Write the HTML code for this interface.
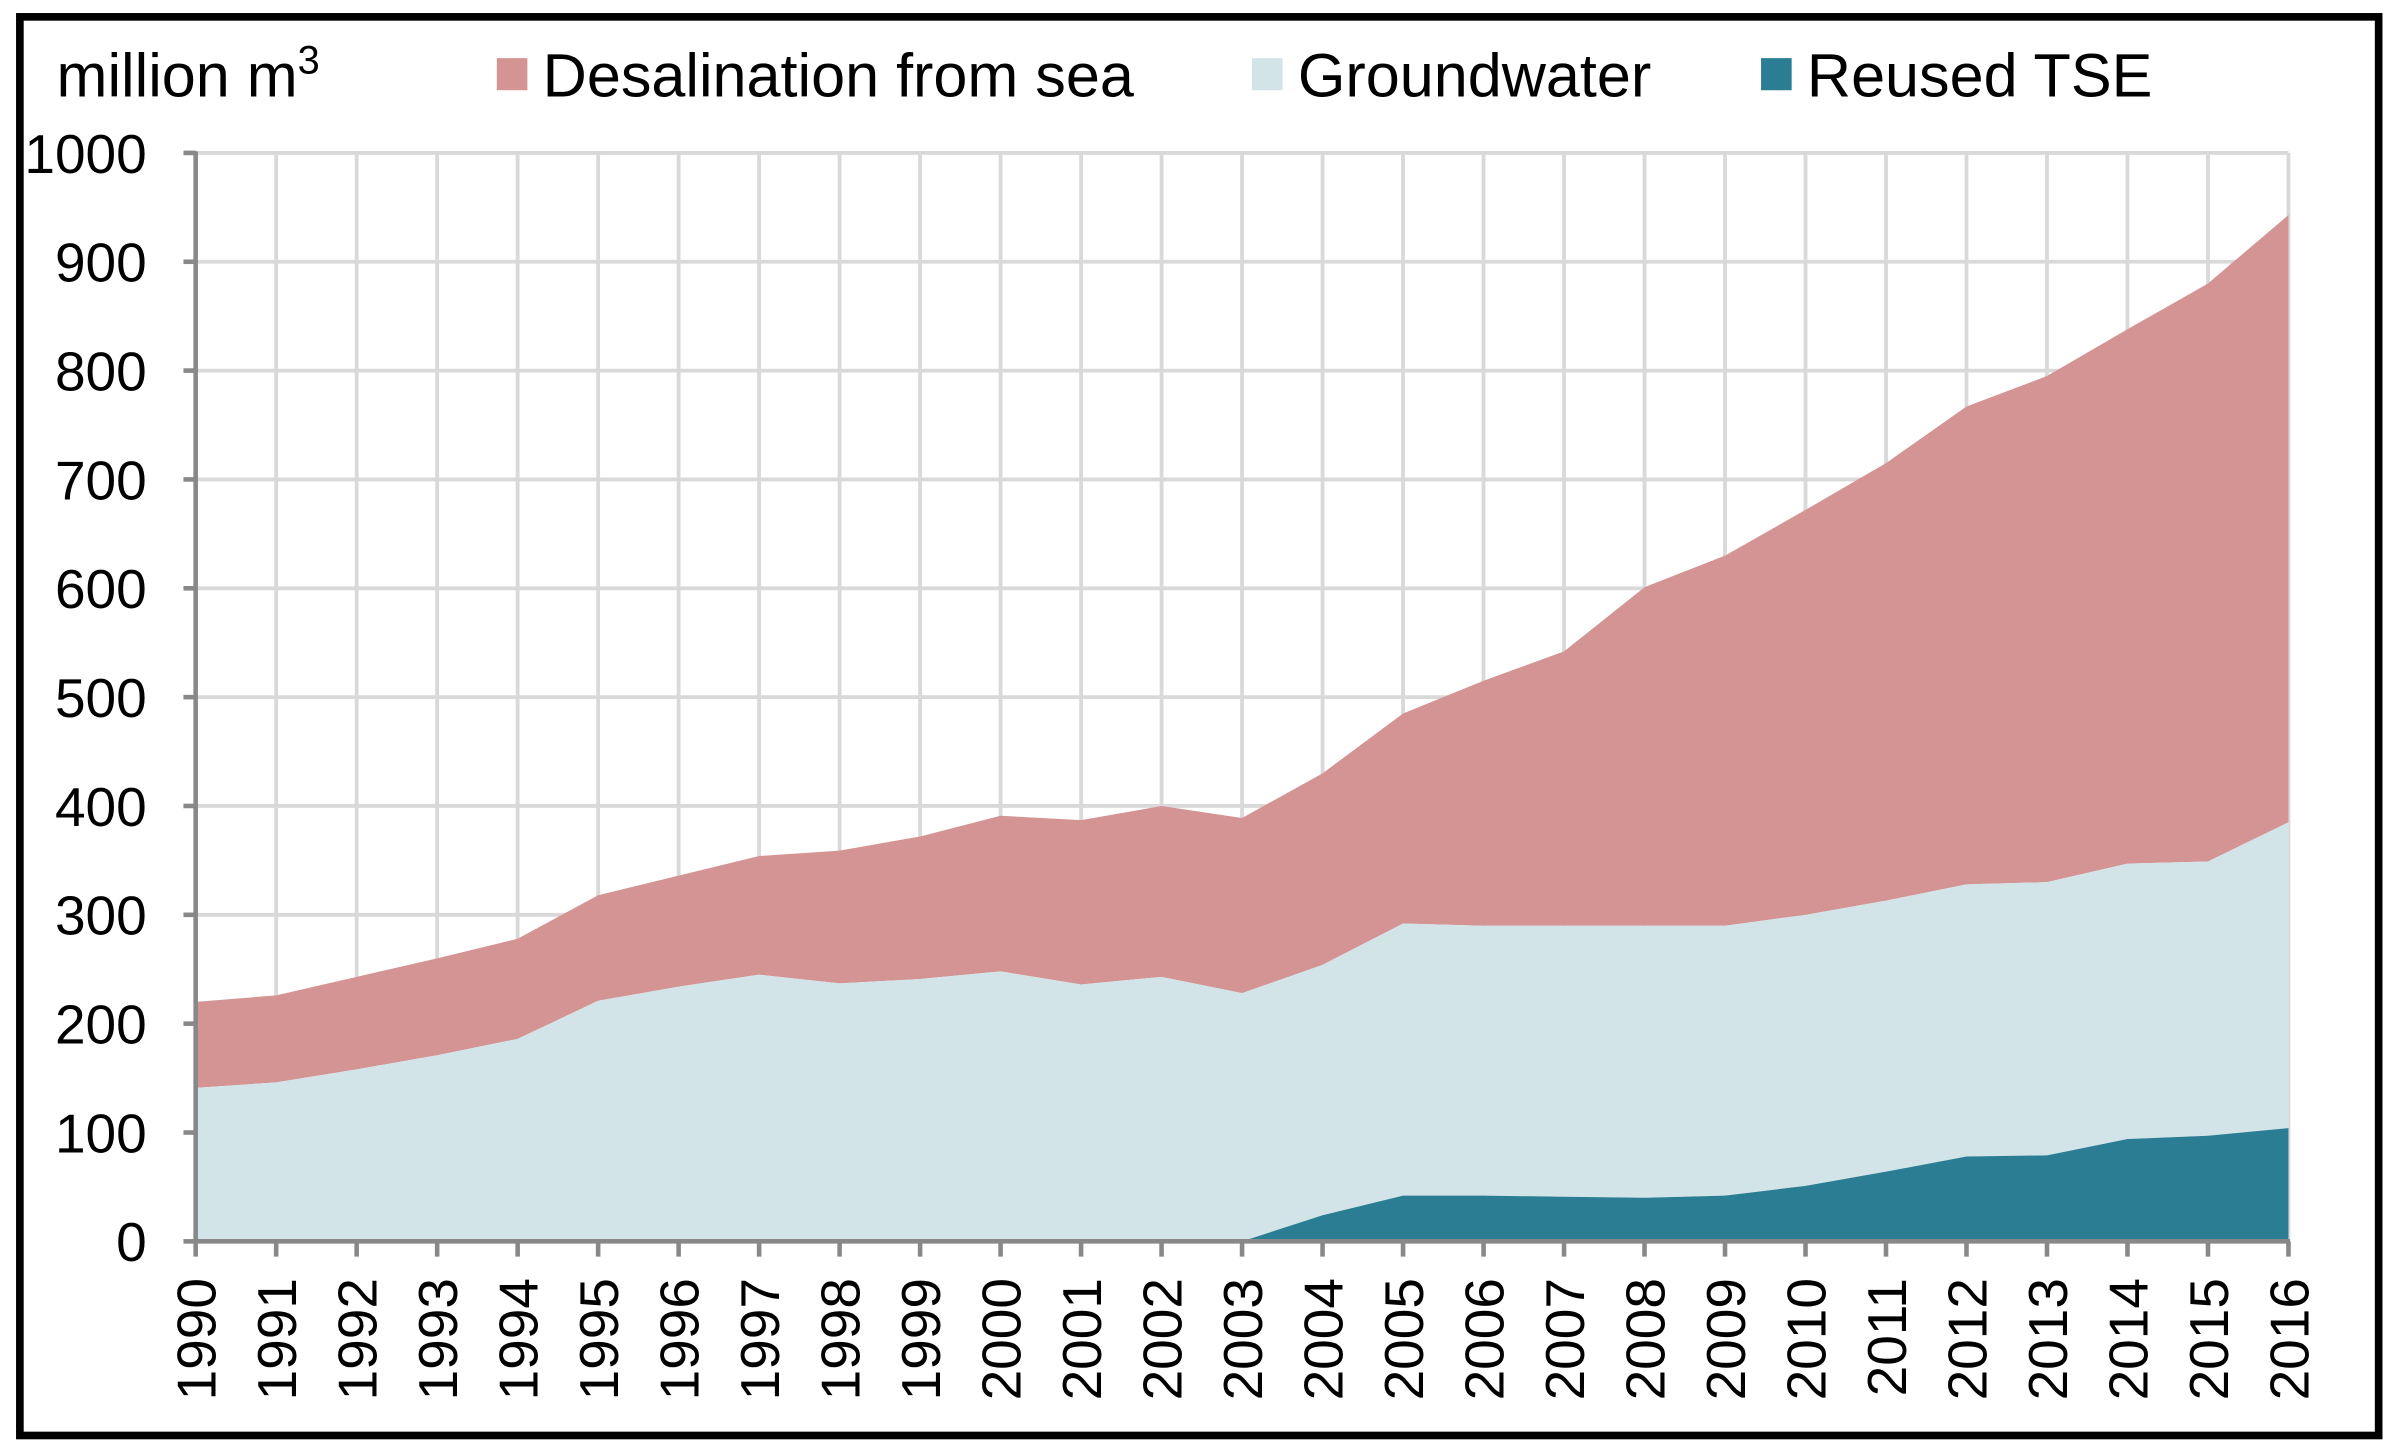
<!DOCTYPE html>
<html><head><meta charset="utf-8"><style>
html,body{margin:0;padding:0;background:#fff;}
svg{display:block;font-family:"Liberation Sans",Arial,sans-serif;}
</style></head><body>
<svg id="chart" width="2397" height="1447" viewBox="0 0 1568 946.5" xmlns="http://www.w3.org/2000/svg">
<rect x="13" y="11" width="1543" height="928" fill="#fff" stroke="#000" stroke-width="5"/>
<text x="37" y="63" font-size="40" fill="#000">million m<tspan font-size="26" dy="-15">3</tspan></text>
<g>
<rect x="325" y="38" width="20" height="21" fill="#d49494"/>
<text x="355" y="63" font-size="40">Desalination from sea</text>
<rect x="819" y="38" width="20" height="21" fill="#d3e4e8"/>
<text x="849" y="63" font-size="40">Groundwater</text>
<rect x="1152" y="38" width="20" height="21" fill="#2b7d93"/>
<text x="1182" y="63" font-size="40">Reused TSE</text>
</g>
<g id="grid"></g><g id="areas"></g><g id="axes"></g>
</svg>
<script>
const years = [1990,1991,1992,1993,1994,1995,1996,1997,1998,1999,2000,2001,2002,2003,2004,2005,2006,2007,2008,2009,2010,2011,2012,2013,2014,2015,2016];
const tse = [0,0,0,0,0,0,0,0,0,0,0,0,0,0,24,42,42,41,40,42,51,64,78,79,94,97,104];
const groundwater = [141,146,158,171,186,221,234,245,237,241,248,236,243,228,230,250,248,249,250,248,249,249,250,251,253,252,281];
const desalination = [79,80,85,89,92,97,102,109,122,131,143,151,157,161,176,193,225,252,311,340,372,402,439,465,491,531,558];
const yTicks = [0,100,200,300,400,500,600,700,800,900,1000];

const NS="http://www.w3.org/2000/svg";
const X0=128,X1=1497,Y0=812,Y1=100;
const xs=i=>X0+(X1-X0)*i/(years.length-1);
const ys=v=>Y0-(Y0-Y1)*v/1000;
function mk(tag,attrs,parent){const e=document.createElementNS(NS,tag);for(const k in attrs)e.setAttribute(k,attrs[k]);parent.appendChild(e);return e;}
const grid=document.getElementById('grid'),areas=document.getElementById('areas'),axes=document.getElementById('axes');
yTicks.forEach(v=>{const l=mk('line',{x1:X0,x2:X1,y1:ys(v),y2:ys(v),stroke:'#d9d9d9','stroke-width':2.5},grid);

});
years.forEach((y,i)=>{const l=mk('line',{x1:xs(i),x2:xs(i),y1:Y1,y2:Y0,stroke:'#d9d9d9','stroke-width':2.5},grid);

});
const cum1=tse.slice(),cum2=tse.map((v,i)=>v+groundwater[i]),cum3=cum2.map((v,i)=>v+desalination[i]);
function area(lo,hi,color,name){let d='M'+xs(0)+','+ys(hi[0]);for(let i=1;i<hi.length;i++)d+='L'+xs(i)+','+ys(hi[i]);for(let i=lo.length-1;i>=0;i--)d+='L'+xs(i)+','+ys(lo[i]);d+='Z';
const p=mk('path',{d:d,fill:color},areas);

}
const zero=years.map(()=>0);
area(cum2,cum3,'#d49494','area-desalination');
area(cum1,cum2,'#d3e4e8','area-groundwater');
area(zero,cum1,'#2b7d93','area-tse');
let a=mk('line',{x1:X0,x2:X0,y1:Y1-1,y2:Y0+1,stroke:'#888','stroke-width':3},axes);


a=mk('line',{x1:X0-1,x2:X1+1,y1:Y0,y2:Y0,stroke:'#888','stroke-width':3},axes);


yTicks.forEach(v=>{const t=mk('line',{x1:X0-8,x2:X0,y1:ys(v),y2:ys(v),stroke:'#888','stroke-width':3},axes);


const tx=mk('text',{x:96,y:ys(v)+13,'font-size':36,'text-anchor':'end'},axes);tx.textContent=v;

});
years.forEach((y,i)=>{const t=mk('line',{x1:xs(i),x2:xs(i),y1:Y0,y2:Y0+10,stroke:'#888','stroke-width':3},axes);


const tx=mk('text',{x:0,y:0,'font-size':36,'text-anchor':'end',transform:'translate('+(xs(i)+13)+',836) rotate(-90)'},axes);tx.textContent=y;

});
</script>
</body></html>
